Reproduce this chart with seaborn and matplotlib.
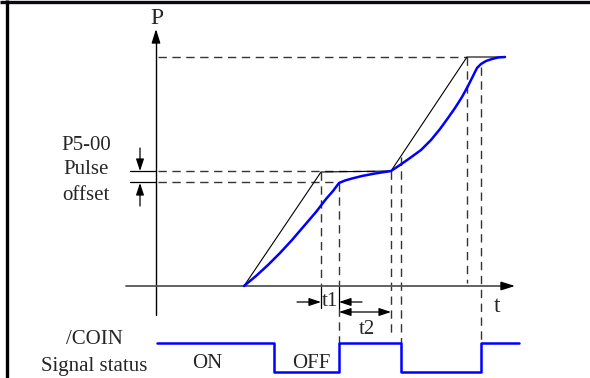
import matplotlib
matplotlib.use("Agg")
import matplotlib.pyplot as plt
import seaborn as sns

sns.set_theme(style="white")
plt.rcParams['font.family'] = ['Liberation Serif', 'DejaVu Serif']

# ---- data (diagram units, x = time axis, y = position, downwards) ----
cmd_t = [244, 321, 391, 467, 505]
cmd_p = [286, 172, 171, 57, 57]

act_t = [244, 256, 268, 280, 292, 304, 316, 326, 333, 339,
         345, 352, 362, 375, 391,
         400, 410, 421, 431, 440, 448, 455, 462, 468, 473, 477, 481,
         486, 492, 498, 505]
act_p = [286, 276, 265, 253, 240, 226, 212, 199, 191, 183,
         180.5, 178.5, 176, 173.5, 171,
         165, 158, 150, 140, 129, 118, 108, 97, 86, 76, 68, 64,
         61, 59, 57.5, 57]

coin_t = [157, 274, 274, 339, 339, 401, 401, 481, 481, 519]
coin_v = [343, 343, 372, 372, 343, 343, 372, 372, 343, 343]

level_p = [57, 171, 182]          # target / pulse offset levels
level_end = [467, 391, 339]
guide_t = [321, 339, 391, 401, 467, 481]
guide_top = [172, 183, 171, 157, 57, 67]
guide_bot = [286, 286, 333, 343, 283, 343]

labels_left = ["P5-00", "Pulse", "offset"]
signal_labels = ["/COIN", "Signal status"]
state_labels = ["ON", "OFF"]

fig = plt.figure(figsize=(5.9, 3.78), dpi=100)
ax = fig.add_axes([0, 0, 1, 1])
ax.set_xlim(0, 590)
ax.set_ylim(378, 0)
ax.axis('off')

dash = dict(color='#333333', lw=1.0, ls=(0, (6, 4)))

# table border
ax.plot([0, 590], [1.5, 1.5], color='#0a0a14', lw=2.4, solid_capstyle='butt')
ax.plot([6.5, 6.5], [0, 378], color='black', lw=2.4, solid_capstyle='butt')

# dashed horizontal levels
for p, e in zip(level_p, level_end):
    ax.plot([158, e], [p, p], **dash)
# solid short ticks at left of P axis
for p in level_p[1:]:
    ax.plot([130, 156], [p, p], color='black', lw=0.9)
# dashed vertical guides
for t, a, b in zip(guide_t, guide_top, guide_bot):
    ax.plot([t, t], [a, b], **dash)
ax.plot([339, 339], [308, 343], **dash)
# t1 solid tick marks
for t in [321, 339]:
    ax.plot([t, t], [286, 308], color='black', lw=0.9)

# axes with arrows
ax.plot([156, 156], [315, 38], color='black', lw=1.0)
ax.annotate('', xy=(156, 29), xytext=(156, 40),
            arrowprops=dict(arrowstyle='-|>,head_length=0.7,head_width=0.22',
                            color='black', lw=1.0, shrinkA=0, shrinkB=0))
ax.plot([126, 505], [286, 286], color='#555555', lw=1.3)
ax.annotate('', xy=(515, 286), xytext=(503, 286),
            arrowprops=dict(arrowstyle='-|>,head_length=0.7,head_width=0.22',
                            color='black', lw=1.0, shrinkA=0, shrinkB=0))

# command line and actual curve
sns.lineplot(x=cmd_t, y=cmd_p, sort=False, estimator=None, ax=ax,
             color='black', lw=0.8)
sns.lineplot(x=act_t, y=act_p, sort=False, estimator=None, ax=ax,
             color='#0000ff', lw=1.8, solid_joinstyle='round')
sns.lineplot(x=coin_t, y=coin_v, sort=False, estimator=None, ax=ax,
             color='#0000ff', lw=1.8)

# pulse offset arrows
ap = dict(arrowstyle='-|>,head_length=0.6,head_width=0.2', color='black',
          lw=0.9, shrinkA=0, shrinkB=0)
ax.annotate('', xy=(140, 171), xytext=(140, 148), arrowprops=ap)
ax.annotate('', xy=(140, 183), xytext=(140, 206), arrowprops=ap)
# t1 arrows
ax.annotate('', xy=(321, 302), xytext=(297, 302), arrowprops=ap)
ax.annotate('', xy=(339, 302), xytext=(362, 302), arrowprops=ap)
# t2 double arrow
ax.annotate('', xy=(391, 312), xytext=(339, 312),
            arrowprops=dict(arrowstyle='<|-|>,head_length=0.6,head_width=0.2',
                            color='black', lw=0.9, shrinkA=0, shrinkB=0))

fs = 15
ax.text(157, 19, "P", fontsize=17, ha='center', va='center')
ax.text(497, 306, "t", fontsize=17, ha='center', va='center')
for lab, y in zip(labels_left, [145, 170, 196]):
    ax.text(86, y, lab, fontsize=fs, ha='center', va='center')
ax.text(330, 301, "t1", fontsize=fs, ha='center', va='center')
ax.text(367, 329, "t2", fontsize=fs, ha='center', va='center')
for lab, y in zip(signal_labels, [340, 366]):
    ax.text(94, y, lab, fontsize=fs, ha='center', va='center')
ax.text(207, 363, state_labels[0], fontsize=fs, ha='center', va='center')
ax.text(311, 364, state_labels[1], fontsize=fs, ha='center', va='center')

fig.savefig("out.png", dpi=100)
